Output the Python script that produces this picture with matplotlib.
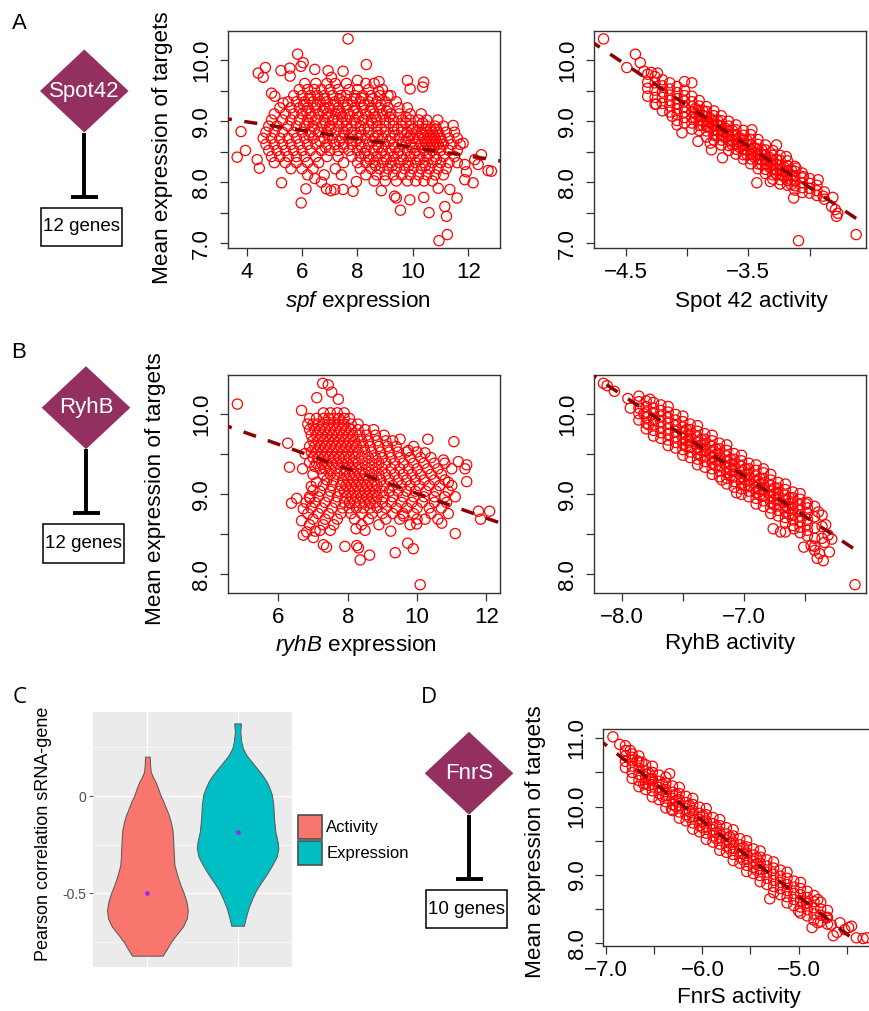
import numpy as np
import matplotlib
matplotlib.use("Agg")
import matplotlib.pyplot as plt
from matplotlib.patches import Polygon, Rectangle

plt.rcParams['font.family'] = ['Liberation Sans', 'DejaVu Sans']
plt.rcParams['mathtext.fontset'] = 'custom'
plt.rcParams['mathtext.rm'] = 'Liberation Sans'
plt.rcParams['mathtext.it'] = 'Liberation Sans:italic'

# ---------------- data ----------------
srna_names = ['Spot42', 'RyhB', 'FnrS']
target_counts = [12, 12, 10]

# A, left: spf expression vs mean target expression (rows of y, xs)
spf_rows = [
    (9.62, [6.1, 6.5, 6.9, 7.2, 7.6, 8.3, 8.6]),
    (9.52, [5.9, 6.2, 6.45, 6.7, 7.0, 7.3, 7.7, 8.0, 8.4, 8.9]),
    (9.42, [5.7, 6.0, 6.3, 6.55, 6.8, 7.1, 7.4, 7.6, 7.9, 8.2, 8.5, 8.8, 9.2]),
    (9.37, [6.25, 6.8, 7.35, 7.95, 8.55]),
    (9.32, [5.5, 5.8, 6.1, 6.4, 6.65, 6.9, 7.2, 7.5, 7.8, 8.1, 8.4, 8.7, 9.0, 9.4]),
    (9.27, [6.05, 6.55, 7.15, 7.65, 8.25, 8.85]),
    (9.22, [5.2, 5.6, 5.9, 6.2, 6.5, 6.8, 7.0, 7.3, 7.6, 7.9, 8.2, 8.5, 8.8, 9.1, 9.5, 9.8]),
    (9.17, [6.15, 6.75, 7.3, 7.85, 8.45, 9.05]),
    (9.12, [5.0, 5.4, 5.7, 6.0, 6.3, 6.6, 6.9, 7.2, 7.4, 7.7, 8.0, 8.3, 8.6, 8.9, 9.2, 9.5, 9.9, 10.3]),
    (9.07, [6.35, 6.95, 7.45, 8.05, 8.65, 9.15, 9.75]),
    (9.02, [4.9, 5.3, 5.6, 5.9, 6.2, 6.5, 6.8, 7.1, 7.3, 7.6, 7.9, 8.2, 8.5, 8.7, 9.0, 9.3, 9.6, 9.9,
            10.2, 10.5, 10.9]),
    (8.97, [6.25, 6.85, 7.45, 7.95, 8.55, 9.15, 9.75, 10.35]),
    (8.92, [4.8, 5.1, 5.5, 5.8, 6.1, 6.4, 6.7, 7.0, 7.3, 7.6, 7.8, 8.1, 8.4, 8.7, 9.0, 9.3, 9.6, 9.9,
            10.2, 10.5, 10.8, 11.1]),
    (8.87, [6.45, 7.05, 7.65, 8.25, 8.85, 9.45, 10.0]),
    (8.82, [4.7, 5.0, 5.3, 5.7, 6.0, 6.3, 6.6, 6.9, 7.2, 7.5, 7.8, 8.1, 8.4, 8.7, 9.0, 9.3, 9.6, 9.8,
            10.1, 10.3, 10.5, 10.7, 10.9, 11.2, 11.5]),
    (8.77, [6.25, 6.95, 7.55, 8.15, 8.75, 9.35, 9.9]),
    (8.72, [4.6, 4.9, 5.2, 5.5, 5.8, 6.1, 6.4, 6.8, 7.1, 7.4, 7.7, 8.0, 8.3, 8.6, 8.9, 9.2, 9.5, 9.8,
            10.0, 10.2, 10.4, 10.6, 10.8, 11.0, 11.3, 11.6]),
    (8.67, [6.65, 7.35, 7.95, 8.55, 9.15, 9.75]),
    (8.62, [4.7, 5.0, 5.3, 5.6, 5.9, 6.2, 6.5, 6.9, 7.2, 7.5, 7.8, 8.1, 8.4, 8.7, 9.0, 9.3, 9.6, 9.9,
            10.1, 10.3, 10.5, 10.7, 10.9, 11.1, 11.4, 11.7]),
    (8.57, [6.85, 7.5, 8.15, 8.75, 9.35, 9.95]),
    (8.52, [4.8, 5.1, 5.4, 5.7, 6.0, 6.3, 6.7, 7.0, 7.3, 7.7, 8.0, 8.3, 8.6, 8.9, 9.2, 9.5, 9.8,
            10.1, 10.4, 10.7, 11.0, 11.3, 11.6]),
    (8.47, [8.25, 8.85, 9.45, 10.05, 10.6]),
    (8.42, [4.9, 5.2, 5.5, 5.8, 6.1, 6.5, 6.9, 7.3, 7.8, 8.1, 8.4, 8.7, 9.0, 9.3, 9.6, 9.9, 10.2,
            10.5, 10.8, 11.1, 11.5]),
    (8.37, [8.45, 9.05, 9.65, 10.25, 10.85]),
    (8.32, [5.0, 5.4, 5.8, 6.2, 6.6, 7.5, 8.0, 8.3, 8.6, 8.9, 9.2, 9.5, 9.8, 10.1, 10.4, 10.7, 11.0,
            11.3, 11.6]),
    (8.27, [8.65, 9.25, 9.85, 10.45]),
    (8.22, [5.6, 6.0, 6.4, 7.2, 8.1, 8.5, 8.8, 9.1, 9.4, 9.7, 10.0, 10.3, 10.6, 10.9, 11.2]),
    (8.12, [6.2, 6.8, 8.3, 8.7, 9.0, 9.3, 9.6, 9.9, 10.2, 10.5, 10.8, 11.1]),
    (8.02, [8.6, 9.0, 9.4, 9.8, 10.1, 10.4, 10.7]),
]
spf_extra = [
    (7.66, 10.35), (5.84, 10.10), (6.04, 9.96), (5.96, 9.90), (4.68, 9.88), (4.42, 9.79),
    (4.60, 9.72), (5.24, 9.83), (5.56, 9.87), (5.57, 9.74), (8.32, 9.93), (9.80, 9.67),
    (9.90, 9.53), (10.39, 9.64), (10.35, 9.56), (4.90, 9.46), (5.02, 9.41), (5.32, 9.30),
    (3.80, 8.83), (3.66, 8.41), (3.96, 8.52), (4.38, 8.37), (4.46, 8.23), (5.26, 7.99),
    (6.14, 7.89), (5.97, 7.66), (6.46, 8.06), (6.70, 8.00), (6.88, 7.89), (7.04, 7.86),
    (7.18, 7.88), (7.48, 7.88), (7.84, 7.85), (7.96, 8.01), (7.42, 8.12), (8.86, 7.86),
    (9.34, 7.77), (9.40, 7.74), (9.89, 7.71), (9.55, 7.54), (10.39, 7.75), (10.58, 7.50),
    (11.15, 7.60), (11.21, 7.44), (10.94, 7.04), (11.24, 7.14), (11.59, 7.74), (11.33, 7.88),
    (10.91, 7.90), (12.17, 7.99), (11.87, 8.04), (11.45, 8.93), (11.81, 8.64), (12.47, 8.45),
    (12.71, 8.19), (12.83, 8.18), (12.35, 8.29), (12.23, 8.37), (11.87, 8.29), (11.93, 8.17),
    (6.46, 9.85), (6.94, 9.83), (7.06, 9.72), (7.48, 9.82), (8.00, 9.67), (8.78, 9.65),
    (9.10, 9.42), (8.76, 9.49), (8.14, 9.38),
    (10.35, 8.77), (10.55, 8.77), (10.75, 8.77), (10.95, 8.77), (10.45, 8.67), (10.65, 8.67),
    (10.85, 8.67), (11.05, 8.67), (10.35, 8.57), (10.55, 8.57), (10.75, 8.57), (10.95, 8.57),
    (10.45, 8.87), (10.65, 8.87), (10.85, 8.87),
]

# A, right: Spot 42 activity (columns of x, ys)
spot42_cols = [
    (-4.32, [9.77, 9.64, 9.54, 9.41]),
    (-4.26, [9.73, 9.63, 9.51, 9.39, 9.28]),
    (-4.20, [9.68, 9.58, 9.48, 9.39, 9.29, 9.17]),
    (-4.14, [9.63, 9.53, 9.43, 9.34, 9.25, 9.15]),
    (-4.08, [9.57, 9.47, 9.37, 9.29, 9.20, 9.11, 9.01]),
    (-4.02, [9.51, 9.42, 9.33, 9.24, 9.15, 9.06, 8.97]),
    (-3.96, [9.41, 9.32, 9.24, 9.15, 9.06, 8.97, 8.87]),
    (-3.93, [9.21, 9.13, 9.05]),
    (-3.90, [9.34, 9.25, 9.17, 9.09, 9.01, 8.93, 8.85]),
    (-3.87, [9.17, 9.09, 9.01, 8.93]),
    (-3.84, [9.24, 9.16, 9.08, 9.00, 8.92, 8.84, 8.74]),
    (-3.81, [9.05, 8.97, 8.89]),
    (-3.78, [9.17, 9.09, 9.01, 8.93, 8.85, 8.77, 8.69]),
    (-3.75, [9.01, 8.93, 8.85, 8.77]),
    (-3.72, [9.09, 9.01, 8.93, 8.85, 8.77, 8.69, 8.61]),
    (-3.69, [8.89, 8.81, 8.73]),
    (-3.66, [9.00, 8.92, 8.84, 8.76, 8.68, 8.60, 8.52]),
    (-3.63, [8.85, 8.77, 8.69, 8.61]),
    (-3.60, [8.94, 8.86, 8.78, 8.70, 8.62, 8.54, 8.46]),
    (-3.57, [8.73, 8.65, 8.57]),
    (-3.54, [8.85, 8.77, 8.69, 8.61, 8.53, 8.45, 8.38]),
    (-3.51, [8.69, 8.61, 8.53, 8.45]),
    (-3.48, [8.78, 8.70, 8.62, 8.54, 8.46, 8.38, 8.30]),
    (-3.45, [8.57, 8.49, 8.41]),
    (-3.42, [8.70, 8.62, 8.54, 8.46, 8.38, 8.30, 8.22]),
    (-3.39, [8.53, 8.45, 8.37, 8.29]),
    (-3.36, [8.61, 8.53, 8.45, 8.37, 8.29, 8.21, 8.14]),
    (-3.33, [8.41, 8.33, 8.25]),
    (-3.30, [8.52, 8.44, 8.36, 8.28, 8.20, 8.12, 8.05]),
    (-3.27, [8.37, 8.29, 8.21, 8.13]),
    (-3.24, [8.44, 8.36, 8.28, 8.20, 8.12, 8.04, 7.97]),
    (-3.21, [8.25, 8.17, 8.09]),
    (-3.18, [8.35, 8.27, 8.19, 8.11, 8.03, 7.95]),
    (-3.15, [8.20, 8.12, 8.04, 7.96]),
    (-3.12, [8.26, 8.18, 8.10, 8.02, 7.94, 7.87]),
    (-3.06, [8.15, 8.07, 7.99, 7.91, 7.83]),
    (-3.00, [8.06, 7.98, 7.90, 7.82]),
    (-2.94, [7.95, 7.86, 7.78]),
    (-2.88, [7.84, 7.72]),
]
spot42_extra = [
    (-4.68, 10.35), (-4.42, 10.10), (-4.49, 9.88), (-4.38, 9.96), (-4.35, 9.82), (-4.29, 9.80),
    (-4.24, 9.79), (-3.96, 9.63), (-4.02, 9.65), (-4.25, 9.28), (-4.12, 9.08), (-4.08, 8.94),
    (-4.04, 8.81), (-3.91, 8.67), (-3.81, 8.64), (-3.80, 8.53), (-3.71, 8.40), (-3.47, 8.86),
    (-3.27, 8.61), (-3.19, 8.42), (-3.11, 8.23), (-3.05, 8.09), (-3.32, 8.01), (-3.43, 7.99),
    (-3.13, 7.74), (-2.93, 8.04), (-2.89, 7.77), (-2.81, 7.75), (-2.82, 7.60), (-2.79, 7.55),
    (-2.77, 7.49), (-2.78, 7.44), (-3.09, 7.04), (-2.62, 7.14),
]

# B, left: ryhB expression (rows of y, xs)
ryhb_rows = [
    (10.02, [7.3, 7.5, 7.7, 7.9]),
    (9.95, [6.9, 7.1, 7.3, 7.45, 7.6, 7.75, 7.9, 8.05]),
    (9.88, [6.85, 7.0, 7.15, 7.3, 7.45, 7.6, 7.75, 7.9, 8.1, 8.3]),
    (9.81, [6.9, 7.05, 7.2, 7.35, 7.5, 7.65, 7.8, 7.95, 8.1, 8.3, 8.5, 8.75]),
    (9.74, [6.95, 7.1, 7.25, 7.4, 7.55, 7.7, 7.85, 8.0, 8.15, 8.35, 8.55, 8.8, 9.05]),
    (9.67, [7.0, 7.15, 7.3, 7.45, 7.6, 7.75, 7.9, 8.05, 8.2, 8.4, 8.6, 8.85, 9.1, 9.3]),
    (9.60, [6.9, 7.05, 7.2, 7.35, 7.5, 7.65, 7.8, 7.95, 8.1, 8.25, 8.45, 8.65, 8.9, 9.15, 9.4, 9.9]),
    (9.53, [6.95, 7.1, 7.25, 7.4, 7.55, 7.7, 7.85, 8.0, 8.15, 8.3, 8.5, 8.7, 8.95, 9.2, 9.45, 9.7,
            10.0]),
    (9.46, [7.0, 7.15, 7.3, 7.45, 7.6, 7.75, 7.9, 8.05, 8.2, 8.4, 8.6, 8.8, 9.0, 9.25, 9.5, 9.8,
            10.1, 10.4]),
    (9.39, [7.1, 7.25, 7.4, 7.55, 7.7, 7.85, 8.0, 8.15, 8.3, 8.5, 8.7, 8.9, 9.1, 9.35, 9.6, 9.9,
            10.2, 10.5, 10.8]),
    (9.32, [7.2, 7.35, 7.5, 7.65, 7.8, 7.95, 8.1, 8.25, 8.4, 8.6, 8.8, 9.0, 9.25, 9.5, 9.75, 10.0,
            10.3, 10.6, 11.0]),
    (9.25, [7.3, 7.5, 7.7, 7.9, 8.05, 8.2, 8.35, 8.5, 8.7, 8.9, 9.1, 9.35, 9.6, 9.85, 10.1, 10.4,
            10.7]),
    (9.18, [7.4, 7.6, 7.85, 8.0, 8.15, 8.3, 8.45, 8.6, 8.75, 8.95, 9.2, 9.45, 9.7, 9.95, 10.2,
            10.5, 10.8]),
    (9.11, [7.3, 7.55, 7.8, 7.95, 8.1, 8.25, 8.4, 8.55, 8.7, 8.85, 9.05, 9.3, 9.55, 9.8, 10.05,
            10.35, 10.65, 11.0]),
    (9.04, [7.2, 7.5, 7.75, 7.9, 8.05, 8.2, 8.35, 8.5, 8.65, 8.8, 9.0, 9.2, 9.45, 9.7, 9.95, 10.25,
            10.55, 10.9]),
    (8.97, [6.9, 7.15, 7.45, 7.7, 7.95, 8.1, 8.25, 8.4, 8.55, 8.7, 8.85, 9.05, 9.3, 9.6, 9.9, 10.2,
            10.5, 10.8, 11.1]),
    (8.90, [6.8, 7.05, 7.35, 7.65, 7.9, 8.05, 8.2, 8.35, 8.5, 8.65, 8.8, 9.0, 9.25, 9.55, 9.85,
            10.15, 10.5, 10.85]),
    (8.83, [6.95, 7.25, 7.55, 7.85, 8.05, 8.25, 8.45, 8.65, 8.85, 9.1, 9.4, 9.7, 10.0, 10.35, 10.7]),
    (8.76, [6.85, 7.15, 7.45, 7.8, 8.1, 8.4, 8.7, 9.0, 9.3, 9.6, 9.9, 10.4, 10.9]),
    (8.69, [7.0, 7.35, 7.7, 8.2, 8.6, 9.1, 9.5, 10.0, 10.6]),
    (8.62, [6.9, 7.3, 7.6, 8.4, 8.9, 9.8]),
    (8.55, [7.2, 7.5, 8.5]),
]
ryhb_extra = [
    (4.82, 10.13), (7.28, 10.39), (7.44, 10.37), (7.54, 10.28), (7.11, 10.21), (7.73, 10.19),
    (6.67, 10.05), (6.27, 9.64), (6.32, 9.34), (6.77, 9.51), (6.70, 9.32), (6.38, 8.89),
    (6.53, 8.95), (6.67, 8.67), (6.72, 8.49), (6.82, 8.53), (7.06, 8.54), (7.01, 8.46),
    (6.72, 8.82), (6.91, 8.95), (7.30, 8.37), (7.39, 8.34), (7.92, 8.35), (8.26, 8.36),
    (8.31, 8.33), (8.36, 8.18), (8.63, 8.24), (9.37, 8.27), (9.73, 8.39), (9.89, 8.32),
    (10.09, 7.87), (8.24, 8.57), (9.24, 8.54), (9.61, 8.73), (9.99, 8.63), (10.23, 8.69),
    (10.31, 9.69), (11.06, 9.66), (10.23, 9.52), (9.51, 9.69), (9.75, 9.55), (10.76, 9.43),
    (11.19, 9.41), (11.43, 9.37), (11.38, 9.32), (11.43, 9.16), (10.90, 9.15), (11.77, 8.79),
    (12.09, 8.79), (11.83, 8.69), (11.10, 8.51), (10.71, 8.64), (7.00, 9.25), (7.10, 9.15),
    (6.95, 9.10), (7.05, 9.35), (6.90, 9.40), (7.00, 9.05),
]

# B, right: RyhB activity (columns of x, ys)
ryhb_act_cols = [
    (-7.86, [10.23, 10.16, 10.08, 10.01, 9.93]),
    (-7.80, [10.17, 10.10, 10.03, 9.96, 9.89, 9.82]),
    (-7.74, [10.15, 10.08, 10.01, 9.94, 9.87, 9.80, 9.73]),
    (-7.68, [10.12, 10.05, 9.98, 9.91, 9.84, 9.77, 9.70]),
    (-7.62, [10.10, 10.03, 9.96, 9.89, 9.82, 9.75, 9.68, 9.61]),
    (-7.56, [10.00, 9.93, 9.86, 9.79, 9.72, 9.65, 9.58]),
    (-7.50, [9.98, 9.91, 9.84, 9.77, 9.70, 9.63, 9.56, 9.49]),
    (-7.47, [9.81, 9.74, 9.67, 9.60]),
    (-7.44, [9.88, 9.81, 9.74, 9.67, 9.60, 9.53, 9.46]),
    (-7.38, [9.86, 9.79, 9.72, 9.65, 9.58, 9.51, 9.44, 9.37]),
    (-7.35, [9.69, 9.62, 9.55, 9.48]),
    (-7.32, [9.76, 9.69, 9.62, 9.55, 9.48, 9.41, 9.34]),
    (-7.26, [9.74, 9.67, 9.60, 9.53, 9.46, 9.39, 9.32, 9.25]),
    (-7.23, [9.57, 9.50, 9.43, 9.36]),
    (-7.20, [9.64, 9.57, 9.50, 9.43, 9.36, 9.29, 9.22]),
    (-7.14, [9.62, 9.55, 9.48, 9.41, 9.34, 9.27, 9.20, 9.13]),
    (-7.11, [9.44, 9.37, 9.30, 9.23]),
    (-7.08, [9.51, 9.44, 9.37, 9.30, 9.23, 9.16, 9.09]),
    (-7.02, [9.49, 9.42, 9.35, 9.28, 9.21, 9.14, 9.07, 9.00]),
    (-6.99, [9.32, 9.25, 9.18, 9.11]),
    (-6.96, [9.39, 9.32, 9.25, 9.18, 9.11, 9.04, 8.97]),
    (-6.90, [9.37, 9.30, 9.23, 9.16, 9.09, 9.02, 8.95, 8.88]),
    (-6.87, [9.20, 9.13, 9.06, 8.99]),
    (-6.84, [9.27, 9.20, 9.13, 9.06, 8.99, 8.92, 8.85]),
    (-6.78, [9.25, 9.18, 9.11, 9.04, 8.97, 8.90, 8.83, 8.76]),
    (-6.75, [9.08, 9.01, 8.94, 8.87]),
    (-6.72, [9.15, 9.08, 9.01, 8.94, 8.87, 8.80, 8.73]),
    (-6.66, [9.13, 9.06, 8.99, 8.92, 8.85, 8.78, 8.71, 8.64]),
    (-6.63, [8.96, 8.89, 8.82, 8.75]),
    (-6.60, [9.03, 8.96, 8.89, 8.82, 8.75, 8.68, 8.61]),
    (-6.54, [9.01, 8.94, 8.87, 8.80, 8.73, 8.66, 8.59, 8.52]),
    (-6.48, [8.90, 8.83, 8.76, 8.69, 8.62, 8.55, 8.48]),
    (-6.42, [8.85, 8.72, 8.58, 8.45, 8.35]),
    (-6.36, [8.74, 8.60, 8.45]),
]
ryhb_act_extra = [
    (-8.15, 10.39), (-8.12, 10.36), (-8.06, 10.29), (-7.95, 10.20), (-7.77, 10.19), (-7.93, 10.08),
    (-7.82, 10.01), (-7.78, 9.87), (-7.06, 9.02), (-7.18, 9.18), (-6.84, 9.32), (-6.09, 7.87),
    (-6.35, 8.17), (-6.38, 8.26), (-6.30, 8.28), (-6.31, 8.49), (-6.34, 8.40), (-6.45, 8.36),
    (-6.51, 8.34), (-6.70, 8.53), (-6.66, 8.53), (-6.76, 8.57), (-6.59, 8.57), (-6.49, 8.88),
    (-6.39, 8.78), (-6.33, 8.62), (-6.28, 8.44), (-6.42, 8.30), (-6.40, 8.20),
]

# D: FnrS activity (columns of x, ys)
fnrs_cols = [
    (-6.80, [10.82, 10.74, 10.66, 10.57]),
    (-6.73, [10.77, 10.68, 10.59, 10.50, 10.41]),
    (-6.66, [10.74, 10.65, 10.56, 10.47, 10.38, 10.29]),
    (-6.59, [10.61, 10.52, 10.43, 10.34, 10.25]),
    (-6.555, [10.49, 10.40, 10.31]),
    (-6.52, [10.59, 10.50, 10.41, 10.32, 10.23, 10.14]),
    (-6.45, [10.46, 10.37, 10.28, 10.19, 10.10]),
    (-6.415, [10.33, 10.24, 10.15]),
    (-6.38, [10.43, 10.34, 10.25, 10.16, 10.07, 9.98]),
    (-6.31, [10.30, 10.21, 10.12, 10.03, 9.94]),
    (-6.275, [10.18, 10.09, 10.00]),
    (-6.24, [10.28, 10.19, 10.10, 10.01, 9.92, 9.83]),
    (-6.17, [10.15, 10.06, 9.97, 9.88, 9.79]),
    (-6.135, [10.02, 9.93, 9.84]),
    (-6.10, [10.12, 10.03, 9.94, 9.85, 9.76, 9.67]),
    (-6.03, [9.99, 9.90, 9.81, 9.72, 9.63]),
    (-5.995, [9.87, 9.78, 9.69]),
    (-5.96, [9.97, 9.88, 9.79, 9.70, 9.61, 9.52]),
    (-5.89, [9.84, 9.75, 9.66, 9.57, 9.48]),
    (-5.855, [9.71, 9.62, 9.53]),
    (-5.82, [9.81, 9.72, 9.63, 9.54, 9.45, 9.36]),
    (-5.75, [9.69, 9.60, 9.51, 9.42, 9.33]),
    (-5.715, [9.56, 9.47, 9.38]),
    (-5.68, [9.66, 9.57, 9.48, 9.39, 9.30, 9.21]),
    (-5.61, [9.53, 9.44, 9.35, 9.26, 9.17]),
    (-5.575, [9.40, 9.31, 9.22]),
    (-5.54, [9.50, 9.41, 9.32, 9.23, 9.14, 9.05]),
    (-5.47, [9.38, 9.29, 9.20, 9.11, 9.02]),
    (-5.435, [9.25, 9.16, 9.07]),
    (-5.40, [9.35, 9.26, 9.17, 9.08, 8.99, 8.90]),
    (-5.33, [9.22, 9.13, 9.04, 8.95, 8.86]),
    (-5.26, [9.19, 9.10, 9.01, 8.92, 8.83, 8.74]),
    (-5.19, [9.07, 8.98, 8.89, 8.80, 8.71]),
    (-5.12, [9.04, 8.95, 8.86, 8.77, 8.68, 8.59]),
    (-5.05, [8.91, 8.82, 8.73, 8.64, 8.55]),
    (-4.98, [8.89, 8.80, 8.71, 8.62, 8.53, 8.44]),
    (-4.91, [8.76, 8.67, 8.58, 8.49, 8.40]),
    (-4.84, [8.70, 8.61, 8.52, 8.43, 8.34]),
    (-4.77, [8.60, 8.50, 8.41, 8.32]),
    (-4.70, [8.48, 8.38, 8.28]),
]
fnrs_extra = [
    (-6.93, 11.02), (-6.86, 10.91), (-6.80, 10.89), (-6.75, 10.82), (-6.73, 10.72), (-6.68, 10.67),
    (-6.63, 10.65), (-6.61, 10.33), (-6.53, 10.40), (-6.34, 10.48), (-6.32, 9.96), (-5.30, 8.65),
    (-4.86, 8.23), (-4.80, 8.30), (-4.64, 8.11), (-4.60, 8.16), (-4.48, 8.23), (-4.45, 8.25),
    (-4.40, 8.08), (-4.33, 8.07), (-4.29, 8.08), (-4.71, 8.37), (-5.00, 8.47), (-4.92, 8.59),
    (-4.80, 8.64), (-4.52, 8.20), (-4.66, 8.27), (-4.57, 8.30),
]

# fitted dashed lines: intercept, slope, x range
spf_fit = (9.27, -0.070, 3.0, 13.5)
spot42_fit = (3.883, -1.344, -4.80, -2.62)
ryhb_fit = (10.551, -0.154, 4.3, 12.6)
ryhb_act_fit = (2.135, -1.014, -8.30, -6.09)
fnrs_fit = (3.162, -1.105, -7.10, -4.47)

# C: violin outlines (value, half width) and medians
violin_groups = ['Activity', 'Expression']
violin_colors = ['#F8766D', '#00BFC4']
activity_y = [0.202, 0.159, 0.125, 0.099, 0.074, 0.039, 0.005, -0.029, -0.063, -0.098, -0.132,
              -0.175, -0.217, -0.303, -0.354, -0.406, -0.457, -0.500, -0.543, -0.586, -0.628,
              -0.671, -0.714, -0.748, -0.783, -0.820]
activity_w = [0.026, 0.030, 0.037, 0.059, 0.089, 0.119, 0.144, 0.178, 0.207, 0.237, 0.259,
              0.278, 0.285, 0.293, 0.300, 0.330, 0.367, 0.404, 0.433, 0.448, 0.437,
              0.393, 0.319, 0.263, 0.219, 0.170]
expression_y = [0.373, 0.330, 0.279, 0.245, 0.211, 0.176, 0.142, 0.108, 0.074, 0.039, 0.005,
                -0.046, -0.115, -0.183, -0.235, -0.269, -0.312, -0.354, -0.397, -0.440, -0.483,
                -0.526, -0.577, -0.628, -0.666]
expression_w = [0.037, 0.030, 0.041, 0.059, 0.096, 0.156, 0.215, 0.274, 0.322, 0.356, 0.381,
                0.396, 0.404, 0.419, 0.444, 0.452, 0.433, 0.385, 0.330, 0.267, 0.207,
                0.163, 0.119, 0.089, 0.070]
violin_medians = [-0.497, -0.185]

# ---------------- layout helpers ----------------
W, H = 869, 1011
fig = plt.figure(figsize=(W / 100, H / 100), dpi=100)

def rect_to_fig(r):
    l, t, rr, b = r
    return [l / W, 1 - b / H, (rr - l) / W, (b - t) / H]

def from_rows(rows, extra):
    xs = [x for y, row in rows for x in row] + [p[0] for p in extra]
    ys = [y for y, row in rows for x in row] + [p[1] for p in extra]
    return xs, ys

def from_cols(cols, extra):
    xs = [x for x, col in cols for y in col] + [p[0] for p in extra]
    ys = [y for x, col in cols for y in col] + [p[1] for p in extra]
    return xs, ys

MINUS = '\u2212'

def fmt(v, show):
    if not show:
        return ''
    s = '%.1f' % v if isinstance(v, float) else str(v)
    return s.replace('-', MINUS)

def scatter_panel(r, xs, ys, fit, xlim, ylim, xticks, xshow, yticks, yshow,
                  xlabel, xlab_px, ylabel=None, ylab_px=None):
    ax = fig.add_axes(rect_to_fig(r))
    ax.scatter(xs, ys, s=54, facecolors='none', edgecolors='#FF0000', linewidths=0.9, zorder=2)
    a, b, x0, x1 = fit
    lx = np.array([x0, x1])
    ax.plot(lx, a + b * lx, color='#8B0000', lw=2.5, dashes=(3.8, 3.6), zorder=3)
    ax.set_xlim(*xlim)
    ax.set_ylim(*ylim)
    ax.set_xticks(xticks)
    ax.set_xticklabels([fmt(v, s) for v, s in zip(xticks, xshow)])
    ax.set_yticks(yticks)
    ax.set_yticklabels([fmt(v, s) for v, s in zip(yticks, yshow)], rotation=90, va='center')
    ax.tick_params(axis='both', direction='out', length=5.8, width=0.9, color='#333333',
                   labelsize=16)
    ax.tick_params(axis='x', pad=4.5)
    ax.tick_params(axis='y', pad=5.5)
    for sp in ax.spines.values():
        sp.set_color('#333333')
        sp.set_linewidth(1.0)
    l, t, rr, bb = r
    ax.set_xlabel(xlabel, fontsize=16.2, ha='center', va='center')
    ax.xaxis.set_label_coords((xlab_px[0] - l) / (rr - l), (bb - xlab_px[1]) / (bb - t))
    if ylabel:
        ax.set_ylabel(ylabel, fontsize=16.2, ha='center', va='center')
        ax.yaxis.set_label_coords((ylab_px[0] - l) / (rr - l), (bb - ylab_px[1]) / (bb - t))
    return ax

# overlay for diagrams and panel letters (pixel coordinates)
ov = fig.add_axes([0, 0, 1, 1])
ov.set_xlim(0, W)
ov.set_ylim(H, 0)
ov.axis('off')
ov.patch.set_visible(False)

def regulator(cx, cy, name, n):
    hw, hh = 44.3, 41.5
    ov.add_patch(Polygon([(cx - hw, cy), (cx, cy - hh), (cx + hw, cy), (cx, cy + hh)],
                         closed=True, facecolor='#93305F', edgecolor='none'))
    ov.text(cx, cy, name, color='white', fontsize=16, ha='center', va='center')
    end = cy + hh + 64
    ov.plot([cx, cx], [cy + hh, end], color='black', lw=2.8, solid_capstyle='butt')
    ov.plot([cx - 13.5, cx + 13.5], [end, end], color='black', lw=2.8, solid_capstyle='butt')
    bx = cx - 2.7
    ov.add_patch(Rectangle((bx - 40.5, end + 11), 81, 38.3, facecolor='white',
                           edgecolor='black', lw=1.1))
    ov.text(bx, end + 30.2, '%d genes' % n, fontsize=13.5, ha='center', va='center')

regulator(84.3, 91, srna_names[0], target_counts[0])
regulator(86, 407.7, srna_names[1], target_counts[1])
regulator(469, 773.3, srna_names[2], target_counts[2])

ov.text(19, 23.5, 'A', fontsize=16, ha='center', va='center')
ov.text(19, 353, 'B', fontsize=16, ha='center', va='center')
ov.text(20, 697.5, 'C', fontsize=16, ha='center', va='center', family=['Open Sans', 'DejaVu Sans'])
ov.text(428.5, 697.5, 'D', fontsize=16, ha='center', va='center', family=['Open Sans', 'DejaVu Sans'])

# ---------------- scatter panels ----------------
yt_a = [7.0, 7.5, 8.0, 8.5, 9.0, 9.5, 10.0]
ys_a = [True, False, True, False, True, False, True]
yt_b = [8.0, 8.5, 9.0, 9.5, 10.0]
ys_b = [True, False, True, False, True]

x, y = from_rows(spf_rows, spf_extra)
scatter_panel((228, 31, 500, 248), x, y, spf_fit, (3.33, 13.14), (6.92, 10.48),
              [4, 6, 8, 10, 12], [True] * 5, yt_a, ys_a,
              r'$\it{spf}$ expression', (358, 301.5), 'Mean expression of targets', (162.5, 147.5))

x, y = from_cols(spot42_cols, spot42_extra)
scatter_panel((593.7, 31, 866, 248), x, y, spot42_fit, (-4.76, -2.54), (6.92, 10.48),
              [-4.5, -4.0, -3.5, -3.0], [True, False, True, False], yt_a, ys_a,
              'Spot 42 activity', (751.7, 301.5))

x, y = from_rows(ryhb_rows, ryhb_extra)
scatter_panel((228, 375.3, 500, 592.7), x, y, ryhb_fit, (4.55, 12.39), (7.77, 10.49),
              [6, 8, 10, 12], [True] * 4, yt_b, ys_b,
              r'$\it{ryhB}$ expression', (356.3, 645), 'Mean expression of targets', (156, 489))

x, y = from_cols(ryhb_act_cols, ryhb_act_extra)
scatter_panel((593.7, 375.3, 866, 592.7), x, y, ryhb_act_fit, (-8.23, -6.0), (7.77, 10.49),
              [-8.0, -7.5, -7.0, -6.5], [True, False, True, False], yt_b, ys_b,
              'RyhB activity', (730, 644))

x, y = from_cols(fnrs_cols, fnrs_extra)
scatter_panel((603.3, 729.3, 890, 946), x, y, fnrs_fit, (-7.03, -4.05), (7.96, 11.13),
              [-7.0, -6.5, -6.0, -5.5, -5.0, -4.5], [True, False, True, False, True, False],
              [8.0, 8.5, 9.0, 9.5, 10.0, 10.5, 11.0],
              [True, False, True, False, True, False, True],
              'FnrS activity', (739, 998), 'Mean expression of targets', (536, 841.7))

# ---------------- C: violins ----------------
rc = (93.3, 711.7, 291.7, 967)
axc = fig.add_axes(rect_to_fig(rc))
axc.set_facecolor('#EBEBEB')
profiles = [(activity_y, activity_w), (expression_y, expression_w)]
for i, (vy, vw) in enumerate(profiles):
    c = i + 1
    vy = np.array(vy)
    vw = np.array(vw)
    axc.fill_betweenx(vy, c - vw, c + vw, facecolor=violin_colors[i], edgecolor='#555555',
                      lw=0.7, zorder=2)
    axc.plot([c], [violin_medians[i]], 'o', color='#A020F0', ms=2.3, zorder=3)
axc.set_xlim(0.4, 2.6)
axc.set_ylim(-0.878, 0.433)
axc.set_xticks([1, 2])
axc.set_xticklabels(['', ''])
axc.set_yticks([-0.5, 0])
axc.set_yticklabels(['-0.5', '0'])
axc.set_yticks([-0.75, -0.25, 0.25], minor=True)
axc.tick_params(axis='x', length=0)
axc.tick_params(axis='y', which='major', length=2.75, width=0.6, color='#333333',
                labelsize=10, labelcolor='#4D4D4D', pad=2)
axc.tick_params(axis='y', which='minor', length=0)
axc.grid(True, which='major', color='white', lw=0.9)
axc.grid(True, which='minor', axis='y', color='white', lw=0.45)
axc.set_axisbelow(True)
for sp in axc.spines.values():
    sp.set_visible(False)
axc.set_ylabel('Pearson correlation sRNA-gene', fontsize=13, ha='center', va='center')
axc.yaxis.set_label_coords((43.3 - rc[0]) / (rc[2] - rc[0]), (rc[3] - 834) / (rc[3] - rc[1]))

# legend
key_tops = [815, 841.3]
label_x = [325.5, 327]
for i, name in enumerate(violin_groups):
    ov.add_patch(Rectangle((298.3, key_tops[i]), 24, 24, facecolor=violin_colors[i],
                           edgecolor='#4D4D4D', lw=1.2))
    ov.text(label_x[i], key_tops[i] + 12.5, name, fontsize=12, ha='left', va='center')

fig.savefig('out.png', dpi=100)
